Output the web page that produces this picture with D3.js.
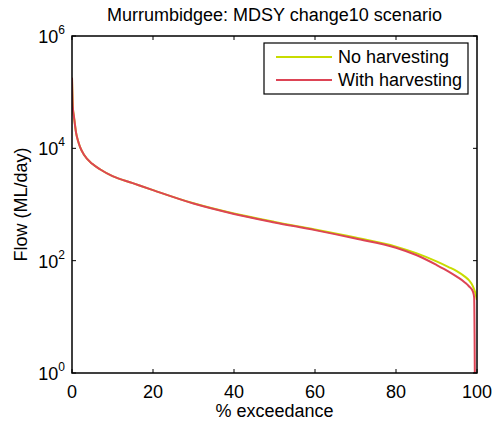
<!DOCTYPE html>
<html>
<head>
<meta charset="utf-8">
<script src="https://d3js.org/d3.v7.min.js"></script>
<style>
  body { margin: 0; background: #fff; }
  text { font-family: "Liberation Sans", Arial, sans-serif; fill: #000; }
</style>
</head>
<body>
<div id="chart"></div>
<script>
// exceedance percent and flow (ML/day)
var exceedNo = [0, 0.2, 0.5, 1, 1.5, 2, 3, 5, 7, 10, 15, 20, 30, 40, 50, 60, 70, 80, 85, 90, 93, 95, 97, 98, 99, 99.5, 100];
var flowNo = [180000, 55000, 36000, 19000, 13500, 10500, 7600, 5300, 4200, 3200, 2400, 1800, 1050, 690, 490, 360, 258, 178, 136, 97, 77, 65, 52, 45, 35, 28, 20];
var exceedWith = [0, 0.2, 0.5, 1, 1.5, 2, 3, 5, 7, 10, 15, 20, 30, 40, 50, 60, 70, 80, 85, 90, 93, 95, 97, 98, 99, 99.3, 99.4, 99.5];
var flowWith = [180000, 55000, 36000, 19000, 13500, 10500, 7600, 5300, 4200, 3200, 2400, 1800, 1040, 680, 480, 350, 248, 170, 126, 84, 64, 52, 41, 35, 28, 22, 5, 0.3];
var xTicks = [0, 20, 40, 60, 80, 100];
var yTicks = [0, 2, 4, 6];
var seriesNames = ['No harvesting', 'With harvesting'];
var seriesColors = ['#c8dc00', '#dd4455'];

var W = 492, H = 423;
var m = { left: 72, right: 15, top: 36, bottom: 50 };
var iw = W - m.left - m.right, ih = H - m.top - m.bottom;

var svg = d3.select('#chart').append('svg').attr('width', W).attr('height', H);

var x = d3.scaleLinear().domain([0, 100]).range([0, iw]);
var y = d3.scaleLog().domain([1, 1e6]).range([ih, 0]);

var g = svg.append('g').attr('transform', 'translate(' + m.left + ',' + m.top + ')');

svg.append('defs').append('clipPath').attr('id', 'clip')
  .append('rect').attr('width', iw).attr('height', ih);

var line = d3.line()
  .x(function (d) { return x(d[0]); })
  .y(function (d) { return y(d[1]); })
  .curve(d3.curveMonotoneX);

var series = [d3.zip(exceedNo, flowNo), d3.zip(exceedWith, flowWith)];

g.append('g').attr('clip-path', 'url(#clip)')
  .selectAll('path').data(series).enter()
  .append('path')
    .attr('d', line)
    .attr('fill', 'none')
    .attr('stroke', function (d, i) { return seriesColors[i]; })
    .attr('stroke-width', 2);

// axes box with inward ticks
g.append('rect').attr('width', iw).attr('height', ih)
  .attr('fill', 'none').attr('stroke', '#000').attr('stroke-width', 1.5);

var tl = 4;
xTicks.forEach(function (t) {
  g.append('line').attr('x1', x(t)).attr('x2', x(t)).attr('y1', ih).attr('y2', ih - tl).attr('stroke', '#000');
  g.append('line').attr('x1', x(t)).attr('x2', x(t)).attr('y1', 0).attr('y2', tl).attr('stroke', '#000');
  g.append('text').attr('x', x(t)).attr('y', ih + 25).attr('text-anchor', 'middle')
    .attr('font-size', 18).text(t);
});

yTicks.forEach(function (e) {
  var yy = y(Math.pow(10, e));
  g.append('line').attr('x1', 0).attr('x2', tl).attr('y1', yy).attr('y2', yy).attr('stroke', '#000');
  g.append('line').attr('x1', iw).attr('x2', iw - tl).attr('y1', yy).attr('y2', yy).attr('stroke', '#000');
  var t = g.append('text').attr('x', -7).attr('y', yy + 7).attr('text-anchor', 'end').attr('font-size', 18);
  t.append('tspan').text('10');
  t.append('tspan').attr('dy', -9).attr('font-size', 12).text(e);
});

// titles
svg.append('text').attr('x', m.left + iw / 2).attr('y', 21).attr('text-anchor', 'middle')
  .attr('font-size', 18).text('Murrumbidgee: MDSY change10 scenario');
svg.append('text').attr('x', m.left + iw / 2).attr('y', 417).attr('text-anchor', 'middle')
  .attr('font-size', 18).text('% exceedance');
svg.append('text').attr('transform', 'translate(27,' + (m.top + ih / 2) + ') rotate(-90)')
  .attr('text-anchor', 'middle').attr('font-size', 18).text('Flow (ML/day)');

// legend
var lg = svg.append('g').attr('transform', 'translate(264,43)');
lg.append('rect').attr('width', 204).attr('height', 51)
  .attr('fill', '#fff').attr('stroke', '#000').attr('stroke-width', 1.2);
seriesNames.forEach(function (n, i) {
  var ly = 14 + i * 23;
  lg.append('line').attr('x1', 12).attr('x2', 68).attr('y1', ly).attr('y2', ly)
    .attr('stroke', seriesColors[i]).attr('stroke-width', 2);
  lg.append('text').attr('x', 74).attr('y', ly + 6).attr('font-size', 18).text(n);
});
</script>
</body>
</html>
